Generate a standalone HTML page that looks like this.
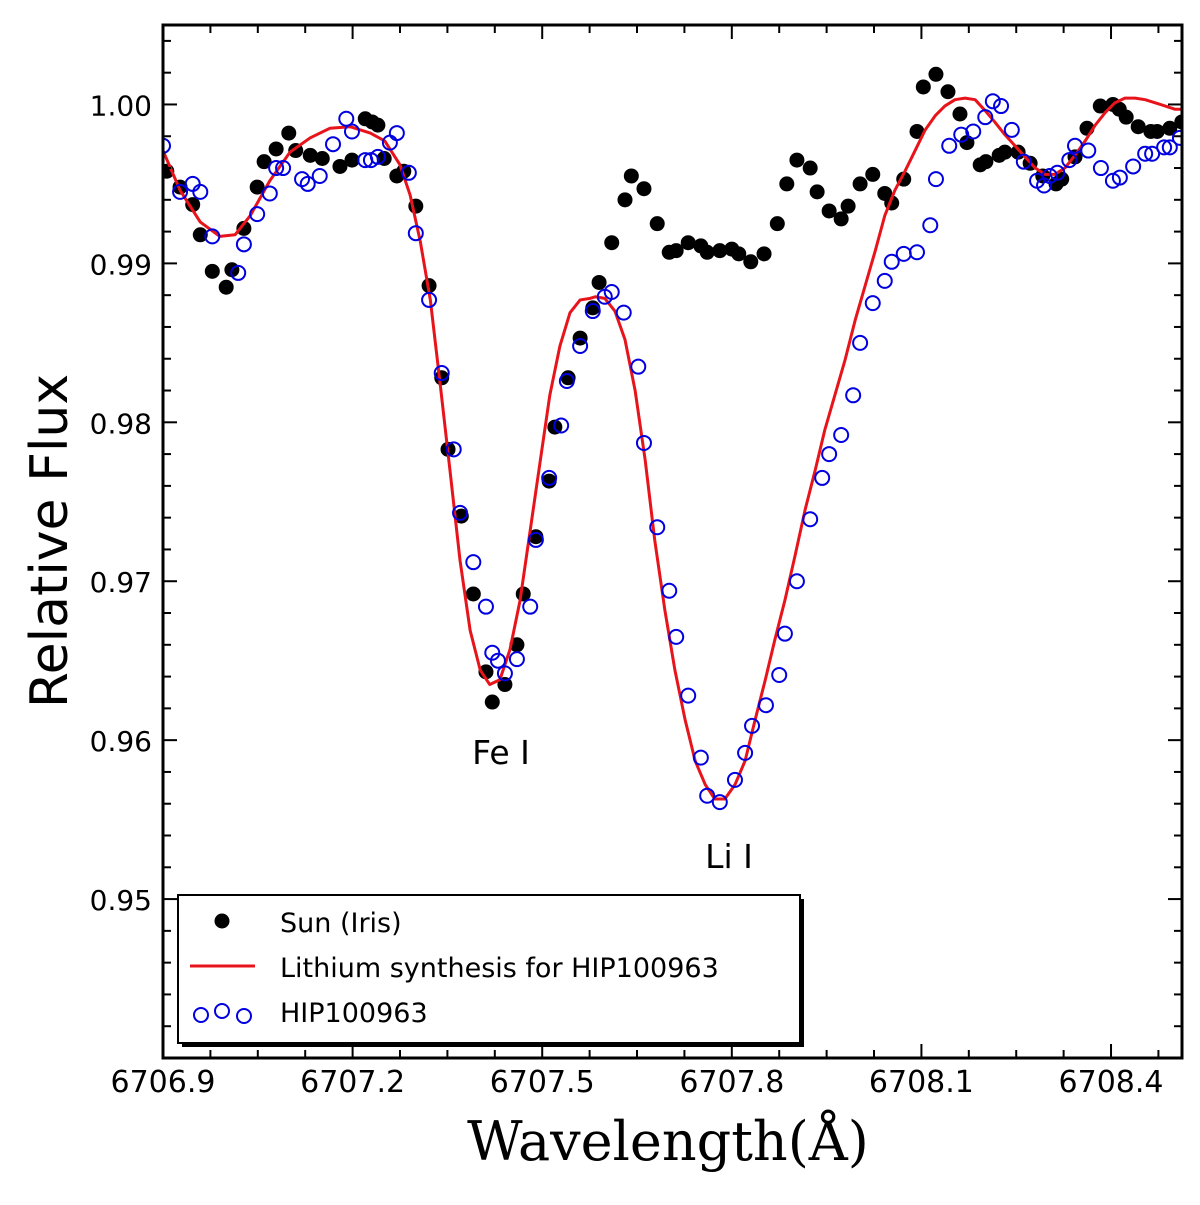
<!DOCTYPE html>
<html><head><meta charset="utf-8"><style>
body{margin:0;background:#fff}
svg{display:block}
text{font-family:"DejaVu Sans","Liberation Sans",sans-serif}
</style></head><body>
<svg id="chart" width="1200" height="1205" xmlns="http://www.w3.org/2000/svg">
<g id="grid"></g>
<g id="plot"></g>
<g id="axes"></g>
<text x="501" y="764" font-size="33" text-anchor="middle">Fe I</text>
<text x="729" y="868" font-size="33" text-anchor="middle">Li I</text>
<text transform="translate(67,541) rotate(-90)" font-size="52" text-anchor="middle">Relative Flux</text>
<text x="668" y="1160" font-size="54" text-anchor="middle" style="font-family:'DejaVu Serif','Liberation Serif',serif">Wavelength(Å)</text>
<g>
<rect x="182" y="899" width="622" height="148" fill="#000"/>
<rect x="178" y="895" width="622" height="148" fill="#fff" stroke="#000" stroke-width="2"/>
<circle cx="222" cy="921" r="7.5" fill="#000"/>
<text x="280" y="932" font-size="27">Sun (Iris)</text>
<line x1="190" y1="966" x2="255" y2="966" stroke="#e8141b" stroke-width="3"/>
<text x="280" y="977" font-size="27">Lithium synthesis for HIP100963</text>
<circle cx="201" cy="1015" r="7" fill="none" stroke="#0000e0" stroke-width="2"/>
<circle cx="222" cy="1011" r="7" fill="none" stroke="#0000e0" stroke-width="2"/>
<circle cx="244" cy="1016" r="7" fill="none" stroke="#0000e0" stroke-width="2"/>
<text x="280" y="1022" font-size="27">HIP100963</text>
</g>
</svg>
<script>
const sunWl=[6706.906,6706.927,6706.947,6706.959,6706.978,6707.000,6707.009,6707.028,6707.049,6707.060,6707.079,6707.099,6707.110,6707.133,6707.152,6707.180,6707.199,6707.220,6707.231,6707.240,6707.250,6707.270,6707.281,6707.300,6707.321,6707.341,6707.351,6707.372,6707.391,6707.411,6707.421,6707.441,6707.460,6707.470,6707.490,6707.511,6707.520,6707.541,6707.560,6707.580,6707.590,6707.610,6707.631,6707.641,6707.661,6707.682,6707.701,6707.712,6707.731,6707.751,6707.761,6707.781,6707.800,6707.811,6707.830,6707.851,6707.872,6707.887,6707.903,6707.924,6707.935,6707.954,6707.973,6707.984,6708.003,6708.023,6708.042,6708.053,6708.072,6708.093,6708.103,6708.123,6708.142,6708.161,6708.172,6708.193,6708.202,6708.223,6708.232,6708.253,6708.272,6708.292,6708.313,6708.322,6708.343,6708.362,6708.383,6708.403,6708.413,6708.424,6708.443,6708.463,6708.473,6708.493,6708.512];
const sunFlux=[.9958,.9948,.9937,.9918,.9895,.9885,.9896,.9922,.9948,.9964,.9972,.9982,.9971,.9968,.9966,.9961,.9965,.9991,.9989,.9987,.9966,.9955,.9958,.9936,.9886,.9828,.9783,.9741,.9692,.9643,.9624,.9635,.9660,.9692,.9728,.9763,.9797,.9828,.9853,.9872,.9888,.9913,.9940,.9955,.9947,.9925,.9907,.9908,.9913,.9911,.9907,.9908,.9909,.9906,.9901,.9906,.9925,.9950,.9965,.9960,.9945,.9933,.9928,.9936,.9950,.9956,.9944,.9938,.9953,.9983,1.0011,1.0019,1.0008,.9994,.9976,.9962,.9964,.9968,.9970,.9970,.9963,.9955,.9950,.9953,.9967,.9985,.9999,1.0000,.9997,.9992,.9986,.9983,.9983,.9985,.9989];
const hipWl=[6706.900,6706.927,6706.947,6706.959,6706.978,6707.019,6707.028,6707.049,6707.069,6707.079,6707.090,6707.120,6707.129,6707.148,6707.169,6707.190,6707.199,6707.220,6707.229,6707.240,6707.259,6707.270,6707.289,6707.300,6707.321,6707.341,6707.360,6707.370,6707.391,6707.411,6707.421,6707.430,6707.441,6707.460,6707.481,6707.490,6707.511,6707.530,6707.539,6707.560,6707.580,6707.599,6707.610,6707.629,6707.652,6707.661,6707.682,6707.701,6707.712,6707.731,6707.751,6707.761,6707.781,6707.805,6707.821,6707.832,6707.854,6707.875,6707.884,6707.903,6707.924,6707.943,6707.954,6707.973,6707.992,6708.003,6708.023,6708.042,6708.053,6708.072,6708.093,6708.114,6708.123,6708.144,6708.163,6708.182,6708.201,6708.213,6708.226,6708.243,6708.262,6708.283,6708.294,6708.303,6708.315,6708.334,6708.343,6708.364,6708.384,6708.403,6708.414,6708.435,6708.454,6708.465,6708.484,6708.493,6708.509];
const hipFlux=[.9974,.9945,.9950,.9945,.9917,.9894,.9912,.9931,.9944,.9960,.9960,.9953,.9950,.9955,.9975,.9991,.9983,.9965,.9965,.9967,.9976,.9982,.9957,.9919,.9877,.9831,.9783,.9743,.9712,.9684,.9655,.9650,.9642,.9651,.9684,.9726,.9765,.9798,.9826,.9848,.9870,.9879,.9882,.9869,.9835,.9787,.9734,.9694,.9665,.9628,.9589,.9565,.9561,.9575,.9592,.9609,.9622,.9641,.9667,.9700,.9739,.9765,.9780,.9792,.9817,.9850,.9875,.9889,.9901,.9906,.9907,.9924,.9953,.9974,.9981,.9983,.9992,1.0002,.9999,.9984,.9964,.9952,.9949,.9955,.9957,.9965,.9974,.9971,.9960,.9952,.9954,.9961,.9969,.9969,.9973,.9973,.9979];
const synWl=[6706.900,6706.927,6706.959,6706.990,6707.014,6707.038,6707.069,6707.101,6707.133,6707.164,6707.196,6707.228,6707.251,6707.275,6707.291,6707.307,6707.323,6707.338,6707.354,6707.370,6707.386,6707.402,6707.417,6707.433,6707.449,6707.465,6707.481,6707.497,6707.512,6707.528,6707.544,6707.560,6707.576,6707.584,6707.599,6707.615,6707.631,6707.647,6707.663,6707.678,6707.694,6707.710,6707.726,6707.742,6707.758,6707.773,6707.789,6707.805,6707.821,6707.837,6707.853,6707.868,6707.884,6707.900,6707.916,6707.932,6707.947,6707.963,6707.979,6707.995,6708.011,6708.027,6708.042,6708.058,6708.074,6708.090,6708.106,6708.122,6708.137,6708.153,6708.169,6708.185,6708.201,6708.216,6708.232,6708.248,6708.264,6708.280,6708.296,6708.311,6708.327,6708.343,6708.359,6708.375,6708.391,6708.406,6708.422,6708.438,6708.454,6708.478,6708.501,6708.512];
const synFlux=[.9971,.9946,.9926,.9917,.9918,.9930,.9952,.9970,.9979,.9985,.9986,.9982,.9977,.9962,.9943,.9914,.9877,.9826,.9770,.9713,.9669,.9644,.9635,.9638,.9657,.9688,.9732,.9776,.9817,.9848,.9869,.9877,.9878,.9879,.9878,.9870,.9852,.9820,.9776,.9726,.9682,.9644,.9613,.9587,.9572,.9563,.9563,.9572,.9587,.9613,.9638,.9663,.9688,.9716,.9745,.9770,.9795,.9817,.9839,.9864,.9886,.9908,.9930,.9946,.9958,.9971,.9984,.9993,.9999,1.0003,1.0004,1.0003,.9996,.9989,.9981,.9974,.9967,.9960,.9956,.9956,.9960,.9968,.9977,.9987,.9995,1.0001,1.0004,1.0004,1.0003,1.0000,.9997,.9997];
const xTicks=[6706.9,6707.2,6707.5,6707.8,6708.1,6708.4];
const xTickLabels=["6706.9","6707.2","6707.5","6707.8","6708.1","6708.4"];
const yTicks=[0.95,0.96,0.97,0.98,0.99,1.00];
const yTickLabels=["0.95","0.96","0.97","0.98","0.99","1.00"];

const L=163,R=1182,T=25,B=1058,X0=6706.9,X1=6708.5123,Y0=0.94,Y1=1.005;
const sx=v=>L+(v-X0)/(X1-X0)*(R-L);
const sy=v=>B-(v-Y0)/(Y1-Y0)*(B-T);
const NS="http://www.w3.org/2000/svg";
function mk(tag,attrs,parent){const e=document.createElementNS(NS,tag);for(const k in attrs)e.setAttribute(k,attrs[k]);parent.appendChild(e);return e;}
const plot=document.getElementById('plot'),axes=document.getElementById('axes');
const clip=mk('clipPath',{id:'cp'},plot);mk('rect',{x:L,y:T,width:R-L,height:B-T},clip);
const g=mk('g',{'clip-path':'url(#cp)'},plot);
sunWl.forEach((w,i)=>{const c=mk('circle',{cx:sx(w),cy:sy(sunFlux[i]),r:7.5,fill:'#000'},g);

});
const line=mk('polyline',{points:synWl.map((w,i)=>sx(w)+','+sy(synFlux[i])).join(' '),fill:'none',stroke:'#e8141b','stroke-width':3,'stroke-linejoin':'round'},g);


hipWl.forEach((w,i)=>{const c=mk('circle',{cx:sx(w),cy:sy(hipFlux[i]),r:7,fill:'none',stroke:'#0000e0','stroke-width':2},g);

});
for(let v=X0;v<=X1+1e-9;v+=0.075){const x=sx(v);const maj=Math.abs(((v-X0)/0.3)-Math.round((v-X0)/0.3))<1e-6;const len=maj?14:8;
mk('line',{x1:x,y1:B,x2:x,y2:B-len,stroke:'#000','stroke-width':2},axes);mk('line',{x1:x,y1:T,x2:x,y2:T+len,stroke:'#000','stroke-width':2},axes);}
for(let v=0.942;v<=Y1+1e-9;v+=0.002){const y=sy(v);const maj=Math.abs(v*100-Math.round(v*100))<1e-6;const len=maj?14:8;
mk('line',{x1:L,y1:y,x2:L+len,y2:y,stroke:'#000','stroke-width':2},axes);mk('line',{x1:R,y1:y,x2:R-len,y2:y,stroke:'#000','stroke-width':2},axes);}
xTicks.forEach((v,i)=>{const t=mk('text',{x:sx(v),y:1092,'font-size':30,'text-anchor':'middle'},axes);t.textContent=xTickLabels[i];

});
yTicks.forEach((v,i)=>{const t=mk('text',{x:152,y:sy(v)+11,'font-size':28,'text-anchor':'end'},axes);t.textContent=yTickLabels[i];

});
const fr=mk('rect',{x:L,y:T,width:R-L,height:B-T,fill:'none',stroke:'#000','stroke-width':3},axes);


</script>
</body></html>
